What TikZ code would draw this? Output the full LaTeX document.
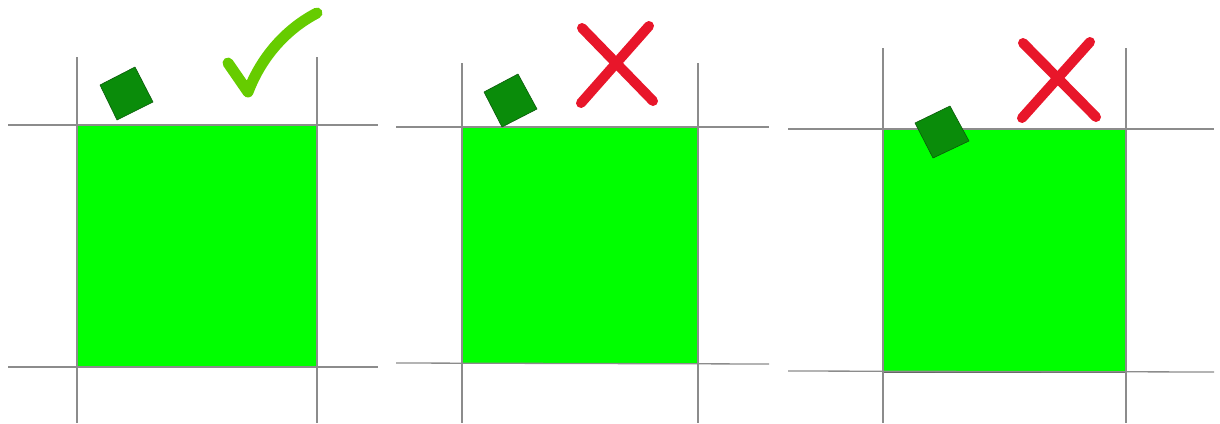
\documentclass[tikz,border=0pt]{standalone}
\definecolor{gridgray}{HTML}{8C8C8C}
\definecolor{bigGreen}{HTML}{00FF00}
\definecolor{smallGreen}{HTML}{0A8C0A}
\definecolor{smallEdge}{HTML}{0A5A0A}
\definecolor{checkGreen}{HTML}{66CC00}
\definecolor{crossRed}{HTML}{E8162A}
\tikzset{
  gridline/.style={draw=gridgray, line width=1.3pt},
  bigsq/.style={fill=bigGreen, draw=black!60, line width=0.6pt},
  smallsq/.style={fill=smallGreen, draw=smallEdge, line width=0.6pt, line join=round},
  mark check/.style={draw=checkGreen, line width=11pt, line cap=round, line join=round},
  mark cross/.style={draw=crossRed, line width=10pt, line cap=round},
}
\begin{document}
\begin{tikzpicture}[x=1pt, y=-1pt]
\useasboundingbox (0,0) rectangle (1220,423);
% ---------- panel 1 ----------
\fill[bigsq] (77,125) rectangle (317,367);
\draw[gridline] (77,57) -- (77,423);
\draw[gridline] (317,57) -- (317,423);
\draw[gridline] (8,125) -- (378,125);
\draw[gridline] (8,367) -- (378,367);
\draw[smallsq] (100,85) -- (135,67) -- (153,102) -- (117,120) -- cycle;
\coordinate (c1) at (228,63);
\coordinate (c2) at (248,92);
\coordinate (c3) at (317,13);
\draw[mark check] (c1) -- (c2) .. controls (262,55) and (288,28) .. (c3);
% ---------- panel 2 ----------
\fill[bigsq] (462,127) rectangle (698,363);
\draw[gridline] (462,63) -- (462,423);
\draw[gridline] (698,63) -- (698,423);
\draw[gridline] (396,127) -- (769,127);
\draw[gridline] (396,363) -- (769,364);
\draw[smallsq] (484,92) -- (518,74) -- (537,109) -- (502,127) -- cycle;
\coordinate (x1a) at (582,28);
\coordinate (x1b) at (653,101);
\coordinate (x2a) at (649,26);
\coordinate (x2b) at (581,103);
\draw[mark cross] (x1a) -- (x1b);
\draw[mark cross] (x2a) -- (x2b);
% ---------- panel 3 ----------
\fill[bigsq] (883,129) rectangle (1126,372);
\draw[gridline] (883,48) -- (883,423);
\draw[gridline] (1126,48) -- (1126,423);
\draw[gridline] (788,129) -- (1214,129);
\draw[gridline] (788,371) -- (1214,372);
\draw[smallsq] (915,123) -- (950,106) -- (969,141) -- (933,158) -- cycle;
\coordinate (y1a) at (1023,43);
\coordinate (y1b) at (1096,117);
\coordinate (y2a) at (1090,42);
\coordinate (y2b) at (1022,118);
\draw[mark cross] (y1a) -- (y1b);
\draw[mark cross] (y2a) -- (y2b);
\end{tikzpicture}
\end{document}
